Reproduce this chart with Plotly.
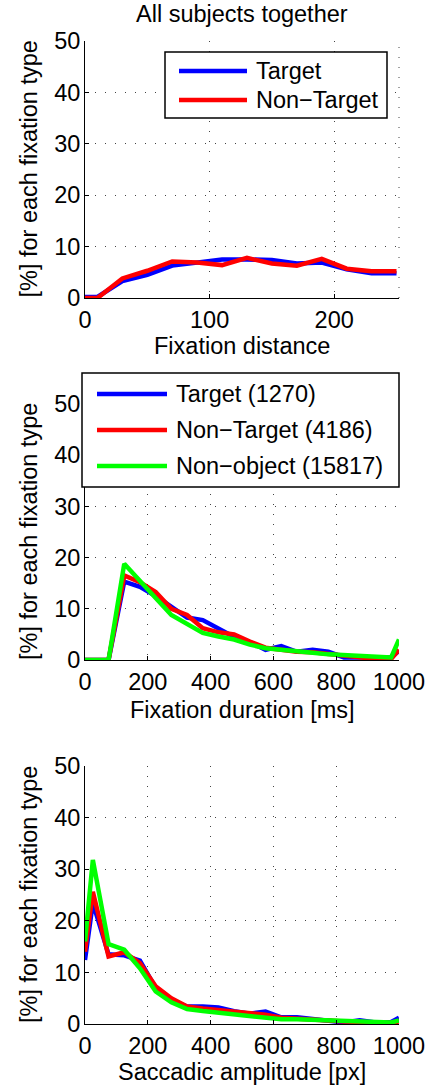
import plotly.graph_objects as go

# ---------------- data ----------------
dist_x = [0, 10, 30, 50, 70, 90, 110, 130, 150, 170, 190, 210, 230, 250]
dist_target = [0.2, 0.2, 3.3, 4.5, 6.3, 6.9, 7.5, 7.5, 7.4, 6.7, 6.9, 5.6, 4.8, 4.8]
dist_nontarget = [0.0, 0.0, 3.8, 5.3, 7.1, 6.9, 6.4, 7.8, 6.7, 6.3, 7.6, 5.7, 5.2, 5.2]

dur_x = [0, 25, 75, 125, 175, 225, 275, 325, 375, 425, 475, 525, 575, 625, 675,
         725, 775, 825, 875, 925, 975, 1000]
dur_target = [0, 0, 0, 15.3, 14.3, 12.5, 10.3, 8.3, 7.8, 6.2, 4.5, 3.5, 2.0, 2.7,
              1.6, 2.0, 1.6, 0.5, 0.5, 0.4, 0.5, 1.8]
dur_nontarget = [0, 0, 0, 16.5, 15.2, 13.3, 10.0, 8.8, 6.2, 5.4, 5.0, 3.6, 2.4, 2.0,
                 1.6, 1.5, 1.2, 0.7, 0.5, 0.2, 0.2, 2.0]
dur_nonobject = [0, 0, 0, 18.8, 15.6, 12.1, 8.8, 7.0, 5.3, 4.6, 4.0, 3.0, 2.3, 2.0,
                 1.6, 1.4, 1.1, 0.9, 0.8, 0.6, 0.5, 4.0]

amp_x = [0, 25, 75, 125, 175, 225, 275, 325, 375, 425, 475, 525, 575, 625, 675,
         725, 775, 825, 875, 925, 975, 1000]
amp_target = [12.4, 23.5, 13.5, 13.3, 12.3, 7.0, 4.7, 3.4, 3.4, 3.2, 2.5, 2.0, 2.4,
              1.3, 1.3, 1.0, 0.6, 0.3, 0.7, 0.3, 0.4, 1.2]
amp_nontarget = [14.0, 25.6, 13.1, 13.9, 11.8, 7.3, 5.0, 3.4, 3.0, 2.7, 2.3, 2.2, 1.8,
                 1.2, 1.1, 0.9, 0.7, 0.5, 0.4, 0.3, 0.2, 0.5]
amp_nonobject = [16.0, 31.8, 15.5, 14.4, 10.8, 6.3, 4.2, 2.9, 2.5, 2.2, 1.8, 1.4, 1.3,
                 0.9, 0.9, 0.8, 0.7, 0.5, 0.4, 0.3, 0.3, 0.7]

legend1_labels = ["Target", "Non\u2212Target"]
legend2_labels = ["Target (1270)", "Non\u2212Target (4186)", "Non\u2212object (15817)"]
y_ticks = [0, 10, 20, 30, 40, 50]
dist_ticks = [0, 100, 200]
dur_ticks = [0, 200, 400, 600, 800, 1000]

title_text = "All subjects together"
ylabel = "[%] for each fixation type"
xlabels = ["Fixation distance", "Fixation duration [ms]", "Saccadic amplitude [px]"]

# ---------------- styling ----------------
W, H = 429, 1089
FONT = "Liberation Sans, Arial, Helvetica, sans-serif"
FS = 23.5
BLUE, RED, GREEN = "#0000ff", "#ff0000", "#00ff00"
LW = 4.5
GRID = "#444444"


def px(x):
    return x / W


def py(y):
    return 1 - y / H


x_dom = [px(85), px(399)]
y_doms = [[py(298), py(41)], [py(660), py(404)], [py(1024), py(766)]]

fig = go.Figure()

series = [
    ("x", "y", dist_x, [(dist_target, BLUE), (dist_nontarget, RED)]),
    ("x2", "y2", dur_x, [(dur_target, BLUE), (dur_nontarget, RED), (dur_nonobject, GREEN)]),
    ("x3", "y3", amp_x, [(amp_target, BLUE), (amp_nontarget, RED), (amp_nonobject, GREEN)]),
]
for xa, ya, xs, lines in series:
    for ys, col in lines:
        fig.add_trace(go.Scatter(x=xs, y=ys, mode="lines", xaxis=xa, yaxis=ya,
                                 line=dict(color=col, width=LW), showlegend=False,
                                 hoverinfo="skip"))

axis_common = dict(
    showline=True, linecolor="black", linewidth=1,
    ticks="inside", ticklen=4, tickcolor="black",
    showgrid=True, gridcolor=GRID, gridwidth=1, griddash="1px,9px",
    zeroline=False, tickfont=dict(family=FONT, size=FS, color="black"),
    fixedrange=True, automargin=False,
)

xranges = [[0, 252], [0, 1000], [0, 1000]]
xtick_sets = [dist_ticks, dur_ticks, dur_ticks]
layout = dict(
    width=W, height=H, margin=dict(l=0, r=0, t=0, b=0, autoexpand=False),
    plot_bgcolor="white", paper_bgcolor="white",
    font=dict(family=FONT, size=FS, color="black"),
)
for i in range(3):
    sfx = "" if i == 0 else str(i + 1)
    layout["xaxis" + sfx] = dict(axis_common, domain=x_dom, range=xranges[i],
                                 tickvals=xtick_sets[i], anchor="y" + sfx,
                                 ticklabelstandoff=1)
    layout["yaxis" + sfx] = dict(axis_common, domain=y_doms[i], range=[0, 50],
                                 tickvals=y_ticks, anchor="x" + sfx,
                                 ticklabelstandoff=-1)
fig.update_layout(**layout)

shapes = []
annotations = []

# dotted right edge for first panel
shapes.append(dict(type="line", xref="x domain", yref="y domain", x0=1, x1=1, y0=0, y1=1,
                   line=dict(color=GRID, width=1, dash="1px,9px"), layer="below"))

# title
annotations.append(dict(text=title_text, x=px(242), y=py(14), xref="paper", yref="paper",
                        showarrow=False, xanchor="center", yanchor="middle",
                        font=dict(family=FONT, size=FS)))

# axis titles
xlab_y = [346, 710, 1072]
for i in range(3):
    annotations.append(dict(text=xlabels[i], x=px(242), y=py(xlab_y[i]), xref="paper",
                            yref="paper", showarrow=False, xanchor="center",
                            yanchor="middle", font=dict(family=FONT, size=FS)))
    yc = (y_doms[i][0] + y_doms[i][1]) / 2
    annotations.append(dict(text=ylabel, x=px(29), y=yc, xref="paper", yref="paper",
                            showarrow=False, xanchor="center", yanchor="middle",
                            textangle=-90, font=dict(family=FONT, size=FS)))


def legend(box, line_x, text_x, ys, labels, colors):
    shapes.append(dict(type="rect", xref="paper", yref="paper",
                       x0=px(box[0]), x1=px(box[1]), y0=py(box[3]), y1=py(box[2]),
                       fillcolor="white", line=dict(color="black", width=1.5), layer="above"))
    for yy, lab, col in zip(ys, labels, colors):
        shapes.append(dict(type="line", xref="paper", yref="paper",
                           x0=px(line_x[0]), x1=px(line_x[1]), y0=py(yy), y1=py(yy),
                           line=dict(color=col, width=LW), layer="above"))
        annotations.append(dict(text=lab, x=px(text_x), y=py(yy), xref="paper",
                                yref="paper", showarrow=False, xanchor="left",
                                yanchor="middle", font=dict(family=FONT, size=FS)))


legend((165, 387, 52, 118), (179, 247), 254, [71, 100], legend1_labels, [BLUE, RED])
legend((82, 399, 373, 487), (97, 167), 174, [394, 430, 466], legend2_labels,
       [BLUE, RED, GREEN])

fig.update_layout(shapes=shapes, annotations=annotations)
fig.write_html("out.html",
               config={"displayModeBar": False, "staticPlot": True},
               post_script="document.body.style.margin='0px';"
                           "document.body.style.overflow='hidden';")
